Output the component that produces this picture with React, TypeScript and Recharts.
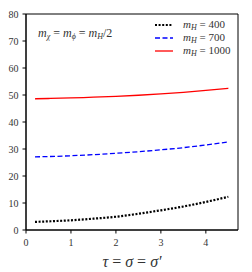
import { Line, LineChart, ReferenceArea, XAxis, YAxis } from "recharts"

const tau = [0.2, 0.5, 1, 1.5, 2, 2.5, 3, 3.5, 4, 4.5]
const mH400 = [3.0, 3.2, 3.6, 4.2, 4.9, 6.0, 7.3, 8.7, 10.4, 12.3]
const mH700 = [27.1, 27.2, 27.5, 27.9, 28.4, 29.0, 29.7, 30.5, 31.5, 32.6]
const mH1000 = [48.6, 48.7, 48.9, 49.2, 49.5, 49.9, 50.4, 51.0, 51.7, 52.5]
const xTicks = [0, 1, 2, 3, 4]
const yTicks = [0, 10, 20, 30, 40, 50, 60, 70, 80]

const data = tau.map((t, i) => ({
  tau: t,
  m400: mH400[i],
  m700: mH700[i],
  m1000: mH1000[i],
}))

const serif = "Liberation Serif, DejaVu Serif, serif"

const legendItems = [
  { value: "400", color: "#000", dash: "2 1.6", width: 2.2 },
  { value: "700", color: "#0000ff", dash: "5 2.5", width: 1.3 },
  { value: "1000", color: "#ff0000", dash: undefined, width: 1.3 },
]

const sub = { fontSize: 8, fontStyle: "italic" as const, verticalAlign: "-2px" }

const MH = () => (
  <span>
    <i>m</i>
    <span style={sub}>H</span>
  </span>
)

const XTick = (props: any) => (
  <text x={props.x} y={props.y + 10} textAnchor="middle" fontSize={10} fill="#333" style={{ fontFamily: serif }}>
    {props.payload.value}
  </text>
)

const YTick = (props: any) => (
  <text x={props.x - 2} y={props.y + 3.5} textAnchor="end" fontSize={10} fill="#333" style={{ fontFamily: serif }}>
    {props.payload.value}
  </text>
)

const App = () => {
  return (
    <div style={{ position: "absolute", left: 0, top: 0, width: 252, height: 272, background: "#fff", fontFamily: serif }}>
      <LineChart width={252} height={272} data={data} margin={{ top: 14, right: 14, left: 0, bottom: 0 }}>
        <XAxis
          dataKey="tau"
          type="number"
          domain={[0, 4.715]}
          ticks={xTicks}
          allowDataOverflow
          height={42}
          tickSize={3.5}
          axisLine={{ stroke: "#000" }}
          tickLine={{ stroke: "#000" }}
          tick={XTick}
        />
        <YAxis
          type="number"
          domain={[0, 80]}
          ticks={yTicks}
          width={26}
          tickSize={3.5}
          axisLine={{ stroke: "#000" }}
          tickLine={{ stroke: "#000" }}
          tick={YTick}
        />
        <ReferenceArea x1={0} x2={4.715} y1={0} y2={80} fill="none" stroke="#000" strokeWidth={1} />
        <Line dataKey="m400" type="monotone" stroke="#000" strokeWidth={2.2} strokeDasharray="2 1.6" dot={false} isAnimationActive={false} />
        <Line dataKey="m700" type="monotone" stroke="#0000ff" strokeWidth={1.3} strokeDasharray="5 2.5" dot={false} isAnimationActive={false} />
        <Line dataKey="m1000" type="monotone" stroke="#ff0000" strokeWidth={1.3} dot={false} isAnimationActive={false} />
      </LineChart>
      <div style={{ position: "absolute", left: 38, top: 26, fontSize: 12, color: "#333", whiteSpace: "nowrap" }}>
        <i>m</i><span style={sub}>χ</span> = <i>m</i><span style={sub}>ϕ</span> = <MH />/2
      </div>
      {legendItems.map((item, i) => (
        <div key={item.value} style={{ position: "absolute", left: 155, top: 18 + i * 13.3, height: 13, display: "flex", alignItems: "center", fontSize: 11, color: "#333", whiteSpace: "nowrap" }}>
          <svg width={18} height={6} style={{ marginRight: 10 }}>
            <line x1={0} y1={3} x2={18} y2={3} stroke={item.color} strokeWidth={item.width} strokeDasharray={item.dash} />
          </svg>
          <span>
            <MH /> = {item.value}
          </span>
        </div>
      ))}
      <div style={{ position: "absolute", left: 0, width: 264, top: 253, textAlign: "center", fontSize: 16, fontStyle: "italic", color: "#333", whiteSpace: "nowrap" }}>
        τ <span style={{ fontStyle: "normal" }}>=</span> σ <span style={{ fontStyle: "normal" }}>=</span> σ′
      </div>
    </div>
  )
}

export default App
